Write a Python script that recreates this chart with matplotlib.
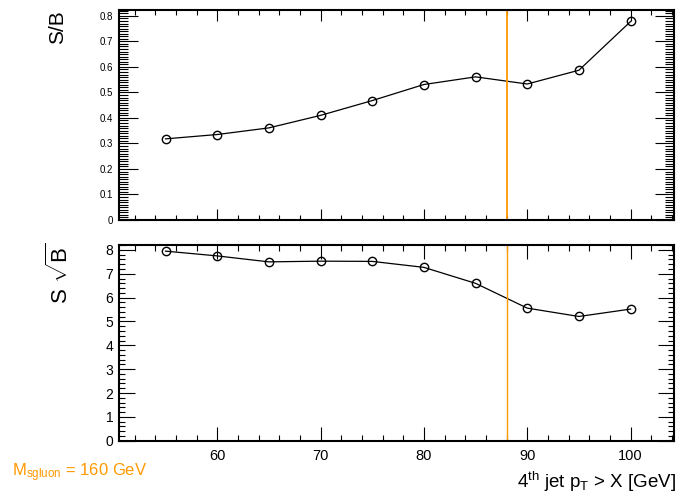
import matplotlib
matplotlib.use("Agg")
import matplotlib.pyplot as plt
from matplotlib.ticker import MultipleLocator

plt.rcParams['font.family'] = ['Liberation Sans', 'DejaVu Sans']
plt.rcParams['mathtext.fontset'] = 'custom'
plt.rcParams['mathtext.rm'] = 'Liberation Sans'
plt.rcParams['mathtext.it'] = 'Liberation Sans'
plt.rcParams['mathtext.sf'] = 'Liberation Sans'

# 4th jet pT cut values
cuts = [55, 60, 65, 70, 75, 80, 85, 90, 95, 100]
s_over_b = [0.318, 0.335, 0.361, 0.410, 0.468, 0.531, 0.561, 0.533, 0.587, 0.778]
s_over_sqrtb = [7.95, 7.75, 7.50, 7.53, 7.52, 7.27, 6.60, 5.56, 5.21, 5.52]
cut_line = 88
orange = "#ff9900"

W, H = 679, 496


def frac(x0, y0, x1, y1):
    return [x0 / W, 1 - y1 / H, (x1 - x0) / W, (y1 - y0) / H]


def style(ax, ymaj, ymin, ylen, xlen):
    for sp in ax.spines.values():
        sp.set_linewidth(1.5)
    ax.xaxis.set_major_locator(MultipleLocator(10))
    ax.xaxis.set_minor_locator(MultipleLocator(2))
    ax.yaxis.set_major_locator(MultipleLocator(ymaj))
    ax.yaxis.set_minor_locator(MultipleLocator(ymin))
    ax.tick_params(axis='both', which='both', direction='in', top=True, right=True, width=0.8)
    ax.tick_params(axis='y', which='major', length=ylen[0])
    ax.tick_params(axis='y', which='minor', length=ylen[1])
    ax.tick_params(axis='x', which='major', length=xlen[0])
    ax.tick_params(axis='x', which='minor', length=xlen[1])


fig = plt.figure(figsize=(W / 100, H / 100), dpi=100)

ax1 = fig.add_axes(frac(119, 9.5, 674, 220))
ax1.plot(cuts, s_over_b, color='black', lw=0.9, marker='o', ms=6,
         mfc='none', mec='black', mew=1.0)
ax1.axvline(cut_line, color=orange, lw=1.3)
ax1.set_xlim(50.5, 104.2)
ax1.set_ylim(0, 0.825)
style(ax1, 0.1, 0.01, (14, 6.5), (8, 3.6))
ax1.tick_params(axis='y', labelsize=7, pad=4)
ax1.tick_params(axis='x', labelbottom=False)
ax1.set_yticks([0, 0.1, 0.2, 0.3, 0.4, 0.5, 0.6, 0.7, 0.8])
ax1.set_yticklabels(['0', '0.1', '0.2', '0.3', '0.4', '0.5', '0.6', '0.7', '0.8'])

ax2 = fig.add_axes(frac(119, 244.7, 674, 440.7))
ax2.plot(cuts, s_over_sqrtb, color='black', lw=0.9, marker='o', ms=6,
         mfc='none', mec='black', mew=1.0)
ax2.axvline(cut_line, color=orange, lw=1.0)
ax2.set_xlim(50.5, 104.2)
ax2.set_ylim(0, 8.22)
style(ax2, 1, 0.2, (11.5, 4.3), (10, 4.3))
ax2.tick_params(axis='y', labelsize=10, pad=4)
ax2.tick_params(axis='x', labelsize=10.5, pad=6)

fig.text(58 / W, 1 - 10 / H, "S/B", rotation=90, ha='center', va='top', fontsize=15)
fig.text(60 / W, 1 - 243 / H, r"S $\sqrt{\mathrm{B}}$", rotation=90, ha='center', va='top', fontsize=16)
fig.text(676 / W, 1 - 488 / H, r"4$^{\mathrm{th}}$ jet p$_{\mathrm{T}}$ > X [GeV]",
         ha='right', va='baseline', fontsize=13.5)
fig.text(12 / W, 1 - 476 / H, r"M$_{\mathrm{sgluon}}$ = 160 GeV", color=orange,
         ha='left', va='baseline', fontsize=12)

fig.savefig("out.png", dpi=100)
